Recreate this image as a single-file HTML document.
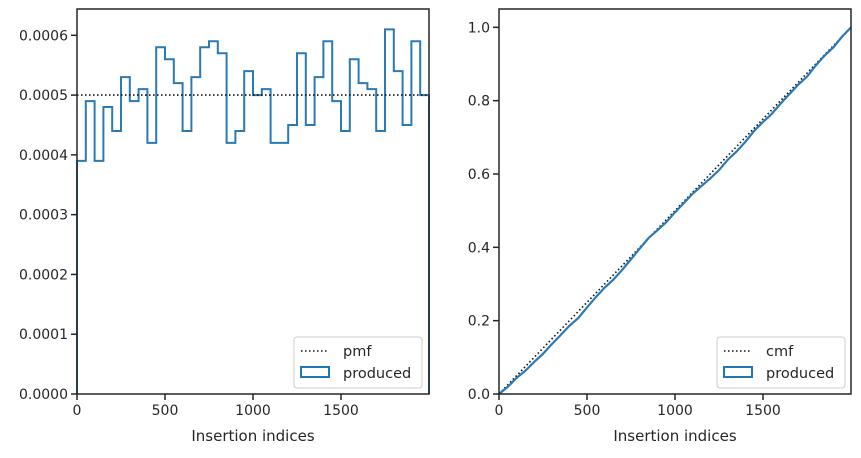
<!DOCTYPE html>
<html><head><meta charset="utf-8"><style>
body{margin:0;background:#fff;font-family:"Liberation Sans","DejaVu Sans",sans-serif}
svg text{font-family:"DejaVu Sans","Liberation Sans",sans-serif;fill:#262626}
</style></head><body>
<svg id="c" width="861" height="453"></svg>
<script>
const binEdgesCount = 40;
const binWidth = 50;
const pmfValue = 0.0005;
const produced = [0.00039,0.00049,0.00039,0.00048,0.00044,0.00053,0.00049,0.00051,0.00042,0.00058,0.00056,0.00052,0.00044,0.00053,0.00058,0.00059,0.00057,0.00042,0.00044,0.00054,0.0005,0.00051,0.00042,0.00042,0.00045,0.00057,0.00045,0.00053,0.00059,0.00049,0.00044,0.00056,0.00052,0.00051,0.00044,0.00061,0.00054,0.00045,0.00059,0.0005];
const leftYTicks = [0,0.0001,0.0002,0.0003,0.0004,0.0005,0.0006];
const leftYLabels = ["0.0000","0.0001","0.0002","0.0003","0.0004","0.0005","0.0006"];
const xTicks = [0,500,1000,1500];
const rightYTicks = [0,0.2,0.4,0.6,0.8,1.0];
const rightYLabels = ["0.0","0.2","0.4","0.6","0.8","1.0"];

const NS="http://www.w3.org/2000/svg";
const svg=document.getElementById('c');
function mk(tag,attrs,name,parent){const e=document.createElementNS(NS,tag);for(const k in attrs)e.setAttribute(k,attrs[k]);


(parent||svg).appendChild(e);return e;}

function panel(x0,x1,y0,y1,ymax,prefix){
  const sx=v=>x0+(v/2000)*(x1-x0), sy=v=>y1-(v/ymax)*(y1-y0);
  const g=mk('g',{},prefix+'-panel');
  return {sx,sy,g};
}
function axes(p,x0,x1,y0,y1,yt,yl,prefix){
  const {sx,sy,g}=p;
  mk('rect',{x:x0,y:y0,width:x1-x0,height:y1-y0,fill:'none',stroke:'#262626','stroke-width':1.5},prefix+'-frame',g);
  xTicks.forEach(t=>{const x=sx(t);
    mk('line',{x1:x,x2:x,y1:y1,y2:y1+6,stroke:'#262626','stroke-width':1.5},prefix+'-x-tick',g);
    const tx=mk('text',{x:x,y:y1+21,'text-anchor':'middle','font-size':14},prefix+'-x-tick-label',g);tx.textContent=t;});
  yt.forEach((t,i)=>{const y=sy(t);
    mk('line',{x1:x0-6,x2:x0,y1:y,y2:y,stroke:'#262626','stroke-width':1.5},prefix+'-y-tick',g);
    const tx=mk('text',{x:x0-9,y:y+5,'text-anchor':'end','font-size':14},prefix+'-y-tick-label',g);tx.textContent=yl[i];});
  const xt=mk('text',{x:(x0+x1)/2,y:y1+47,'text-anchor':'middle','font-size':15},prefix+'-x-axis-title',g);xt.textContent='Insertion indices';
}
function legend(g,x,y,label,prefix){
  mk('rect',{x:x,y:y,width:128,height:51,rx:3,fill:'#fff','fill-opacity':0.85,stroke:'#ccc'},prefix+'-legend',g);
  mk('line',{x1:x+7,x2:x+35,y1:y+14,y2:y+14,stroke:'#111','stroke-width':1.6,'stroke-dasharray':'1.5,2.5'},prefix+'-legend-pmf-swatch',g);
  const t1=mk('text',{x:x+49,y:y+19,'font-size':14.5},prefix+'-legend-pmf-label',g);t1.textContent=label;
  mk('rect',{x:x+7,y:y+30,width:28,height:10,fill:'none',stroke:'#1f77b4','stroke-width':2},prefix+'-legend-produced-swatch',g);
  const t2=mk('text',{x:x+49,y:y+41,'font-size':14.5},prefix+'-legend-produced-label',g);t2.textContent='produced';
}

// Left
const L=panel(77,429,9,394,0.000644,'left');
let d='';
produced.forEach((v,i)=>{const xa=L.sx(i*binWidth),xb=L.sx((i+1)*binWidth),y=L.sy(v);
  d+=(i===0?`M${xa},${L.sy(0)} L${xa},${y}`:` L${xa},${y}`)+` L${xb},${y}`;});
d+=` L${L.sx(2000)},${L.sy(0)}`;
mk('path',{d:d,fill:'none',stroke:'#2a7ab5','stroke-width':2},'produced-histogram',L.g);
mk('line',{x1:L.sx(0),x2:L.sx(2000),y1:L.sy(pmfValue),y2:L.sy(pmfValue),stroke:'#111','stroke-width':1.6,'stroke-dasharray':'1.5,2.5'},'pmf-line',L.g);
axes(L,77,429,9,394,leftYTicks,leftYLabels,'left');
legend(L.g,294,337,'pmf','left');

// Right
const R=panel(499,851,9,394,1.05,'right');
mk('line',{x1:R.sx(0),x2:R.sx(2000),y1:R.sy(0),y2:R.sy(1),stroke:'#111','stroke-width':1.6,'stroke-dasharray':'1.5,2.5'},'cmf-line',R.g);
let cum=0, d2=`M${R.sx(0)},${R.sy(0)}`;
produced.forEach((v,i)=>{cum+=v*binWidth;d2+=` L${R.sx((i+1)*binWidth)},${R.sy(cum)}`;});
mk('path',{d:d2,fill:'none',stroke:'#2a7ab5','stroke-width':2.2},'produced-cdf',R.g);
axes(R,499,851,9,394,rightYTicks,rightYLabels,'right');
legend(R.g,717,337,'cmf','right');
</script>
</body></html>
